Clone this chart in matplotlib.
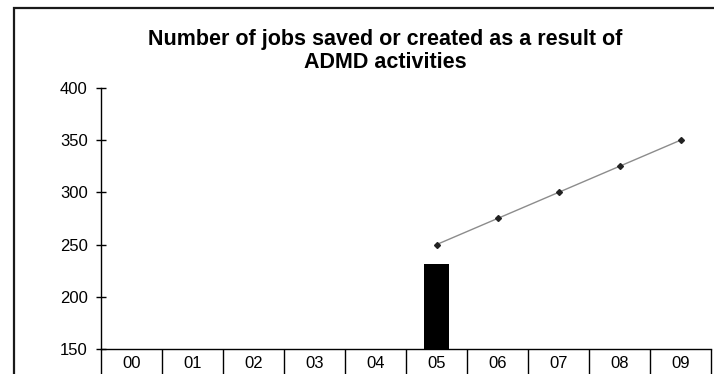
import numpy as np
import matplotlib.pyplot as plt
from matplotlib.patches import Rectangle
from matplotlib.ticker import FixedLocator

# Years (two-digit labels) and values
years = ["00", "01", "02", "03", "04", "05", "06", "07", "08", "09"]
actual_years = ["05"]
actual_jobs = [231]
target_years = ["05", "06", "07", "08", "09"]
target_jobs = [250, 275, 300, 325, 350]


def main():
    plt.rcParams['font.family'] = ['Liberation Sans', 'DejaVu Sans']

    fig = plt.figure(figsize=(7.14, 3.74), dpi=100)
    ax = fig.add_axes([101 / 714, 1 - 349 / 374, 610 / 714, 261 / 374])

    pos = {y: i for i, y in enumerate(years)}

    # Actual jobs as bars, planned jobs as a line
    ax.bar([pos[y] for y in actual_years], actual_jobs, width=0.42,
           color="black", bottom=0, zorder=2)
    ax.plot([pos[y] for y in target_years], target_jobs, color="#8c8c8c",
            linewidth=1.0, marker="D", markersize=3.0, markerfacecolor="#222222",
            markeredgecolor="#222222", zorder=3)

    ax.set_xlim(-0.5, len(years) - 0.5)
    ax.set_ylim(150, 400)
    ax.set_yticks(np.arange(150, 401, 50))

    ax.set_xticks(range(len(years)))
    ax.set_xticklabels(years)
    ax.xaxis.set_minor_locator(FixedLocator(np.arange(-0.5, len(years), 1.0)))
    ax.tick_params(axis="x", which="major", length=0, pad=5.0, labelsize=12)
    ax.tick_params(axis="x", which="minor", length=20, width=1.0,
                   direction="out", color="black")
    ax.tick_params(axis="y", which="major", length=7, width=1.0,
                   direction="inout", pad=6, labelsize=12)

    for side in ["top", "right"]:
        ax.spines[side].set_visible(False)
    ax.spines["left"].set_linewidth(1.0)
    ax.spines["bottom"].set_linewidth(1.0)

    fig.text(385 / 714, 1 - 40 / 374,
             "Number of jobs saved or created as a result of",
             ha="center", va="center", fontsize=15.5, fontweight="bold")
    fig.text(385 / 714, 1 - 62 / 374, "ADMD activities",
             ha="center", va="center", fontsize=15.5, fontweight="bold")

    # Chart frame, running off the right and bottom edges
    fig.patches.append(Rectangle((14 / 714, -0.2), 1.0, 1.2 - 8 / 374,
                                 transform=fig.transFigure, fill=False,
                                 edgecolor="#1a1a1a", linewidth=1.6))

    plt.savefig("out.png", dpi=100)


if __name__ == "__main__":
    main()
